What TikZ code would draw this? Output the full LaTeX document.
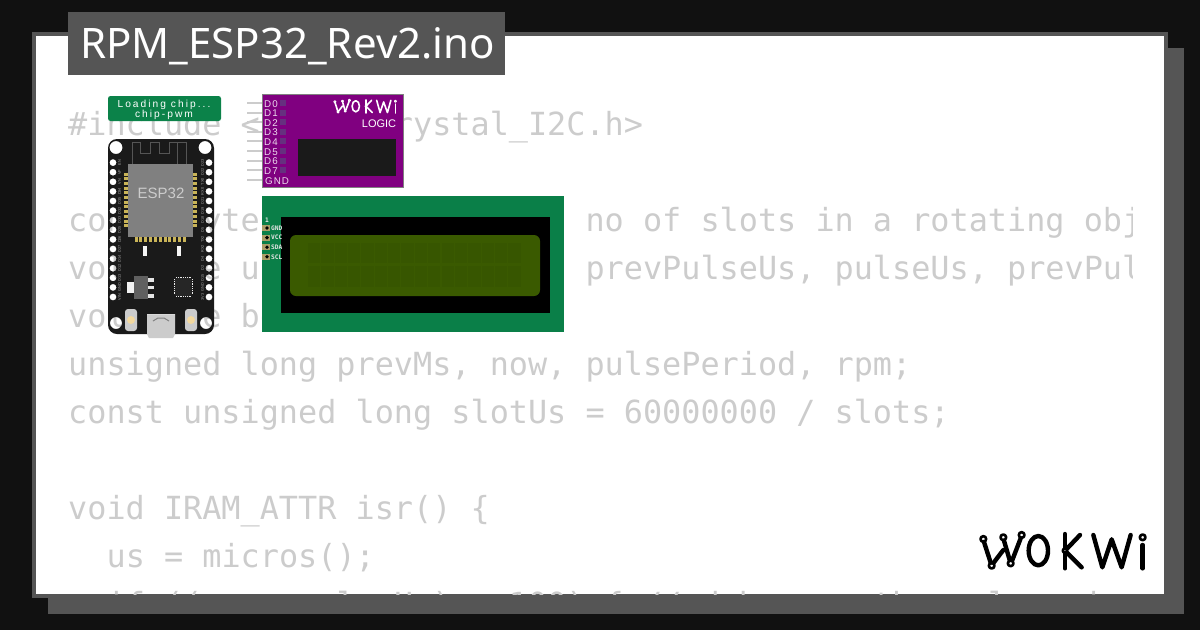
\documentclass[tikz,border=0pt]{standalone}
\usepackage{fontspec}
\setmainfont{Liberation Sans}
\newfontfamily\codefont{DejaVu Sans Mono}
\newfontfamily\titlefont{Noto Sans}
\newfontfamily\spacedfont[LetterSpace=20]{Liberation Sans}
\newfontfamily\logicfont[LetterSpace=10]{Liberation Sans}
\definecolor{bgdark}{HTML}{111111}
\definecolor{frame}{HTML}{555555}
\definecolor{codegray}{HTML}{CCCCCC}
\definecolor{pcbgreen}{HTML}{0A7F48}
\definecolor{chipgreen}{HTML}{0B8249}
\definecolor{logicpurple}{HTML}{800080}
\definecolor{logicsquare}{HTML}{66307F}
\definecolor{lcdscreen}{HTML}{3A5A00}
\definecolor{lcdcell}{HTML}{375600}
\definecolor{boardblack}{HTML}{1A1A1A}
\definecolor{padgold}{HTML}{C9B458}
\definecolor{btnyellow}{HTML}{F3D9A0}
\tikzset{
  codeline/.style={anchor=base west,inner sep=0pt,text=codegray,font=\codefont\fontsize{31.83}{34}\selectfont},
  tinylabel/.style={inner sep=0pt,text=#1,font=\fontsize{3.8}{4}\selectfont,rotate=90},
  logicpin/.style={anchor=base west,inner sep=0pt,text=white!85!logicpurple,font=\logicfont\fontsize{9.8}{10}\selectfont},
  lcdpin/.style={anchor=west,inner sep=0pt,text=white!90!black,font=\codefont\bfseries\fontsize{6.2}{7}\selectfont},
  chiplabel/.style={inner sep=0pt,text=white,font=\spacedfont\fontsize{10.2}{11}\selectfont},
  logostroke/.style={line cap=round,line join=round,fill=none}
}
\newcommand{\wokwilogo}[5]{%
  \begin{scope}[shift={(#3,#4)},x=#2pt,y=-#2pt,draw=#1,line width=#5pt,logostroke]
    \draw (42,66) -- (62,128);
    \draw (71,128) -- (100,90);
    \draw (102,62) -- (119,120);
    \draw (127,120) -- (152,55);
    \draw (205,92) ellipse (29 and 44);
    \draw (285,42) -- (285,84);
    \draw (285,100) -- (285,145);
    \draw (291,86) -- (330,45);
    \draw (291,98) -- (335,142);
    \draw (370,45) -- (397,142) -- (425,58) -- (455,142) -- (482,45);
    \draw (518,75) -- (518,145);
    \begin{scope}[line width=.6*#5pt]
      \draw (40,57) circle (8.5);
      \draw (100,52) circle (8.5);
      \draw (155,45) circle (8.5);
      \draw (65,137) circle (8.5);
      \draw (122,130) circle (8.5);
      \draw (285,92) circle (6.5);
      \draw (518,52) circle (8.5);
    \end{scope}
  \end{scope}}
\begin{document}
\begin{tikzpicture}[x=1pt,y=-1pt]
\useasboundingbox (0,0) rectangle (1200,630);
\fill[bgdark] (0,0) rectangle (1200,630);
\fill[frame] (48,48) rectangle (1184,614);
\fill[frame] (32,32) rectangle (1168,598);
\fill[white] (36,36) rectangle (1164,594);
% code
\begin{scope}
\clip (36,36) rectangle (1132,594);
\node[codeline] (c1) at (68,135) {\#include <LiquidCrystal\_I2C.h>};
\node[codeline] (c2) at (68,231) {const byte slots = 20;~~// no of slots in a rotating object};
\node[codeline] (c3) at (68,279) {volatile unsigned long us, prevPulseUs, pulseUs, prevPulse;};
\node[codeline] (c4) at (68,327) {volatile bool done;};
\node[codeline] (c5) at (68,375) {unsigned long prevMs, now, pulsePeriod, rpm;};
\node[codeline] (c6) at (68,423) {const unsigned long slotUs = 60000000 / slots;};
\node[codeline] (c7) at (68,519) {void IRAM\_ATTR isr() \{};
\node[codeline] (c8) at (106.4,567) {us = micros();};
\node[codeline] (c9) at (106.4,615) {if ((us - pulseUs) > 100) \{ // debounce the pulse signal};
\end{scope}
% title
\fill[frame] (68,12) rectangle (505,75);
\node[anchor=base west,inner sep=0pt,text=white,font=\titlefont\fontsize{42}{46}\selectfont] (title) at (80,58.5) {RPM\_ESP32\_Rev2.ino};
% chip label
\fill[chipgreen,rounded corners=2.5] (108,96) rectangle (221,121);
\node[chiplabel] (load) at (164,104.5) {Loading chip...};
\node[chiplabel] (pwm) at (164,114.5) {chip-pwm};
% ESP32 board
\fill[boardblack,even odd rule] (108,139) [rounded corners=9] rectangle (214,334) [sharp corners]
  (116,147.5) circle (6.5) (205,147.5) circle (6.5) (116,323) circle (6) (206,323) circle (6)
  foreach \k [evaluate=\k as \yy using 297-9.6*\k] in {0,...,14} { (113,\yy) circle (3.5) (209,\yy) circle (3.5) };
\draw[frame,line width=.7] (132,164) -- (132,142) -- (140,142) -- (140,153) -- (150,153) -- (150,142) -- (159,142) -- (159,153) -- (169,153) -- (169,142) -- (186,142) -- (186,164) (177,142) -- (177,164);
\foreach \k in {0,...,11} {
  \fill[padgold] (124,172.5+4.7*\k) rectangle (128,175.5+4.7*\k);
  \fill[padgold] (193,172.5+4.7*\k) rectangle (197,175.5+4.7*\k);
}
\foreach \k in {0,...,10} {
  \fill[padgold] (134.5+4.85*\k,237) rectangle (137.5+4.85*\k,242);
}
\fill[gray] (128,164) rectangle (193,237);
\node[inner sep=0pt,text=codegray,font=\fontsize{15}{16}\selectfont] (esp) at (161,193) {ESP32};
\foreach \k/\a/\b in {0/VIN/3V3,1/GND/GND,2/D13/D15,3/D12/D2,4/D14/D4,5/D27/RX2,6/D26/TX2,7/D25/D5,8/D33/D18,9/D32/D19,10/D35/D21,11/D34/RX0,12/VN/TX0,13/VP/D22,14/EN/D23} {
  \node[tinylabel=gray!70] (la\k) at (119.5,297-9.6*\k) {\a};
  \node[tinylabel=gray!70] (lb\k) at (202.5,297-9.6*\k) {\b};
}
\fill[white!92!gray] (143,246) rectangle (147,256);
\fill[white!92!gray] (177,246) rectangle (181,256);
% regulator
\fill[white!90!gray] (127,282) rectangle (134,293);
\fill[gray!75!black] (134,276) rectangle (148,299);
\fill[white!80!gray] (148,278) rectangle (154,281.5);
\fill[white!80!gray] (148,285.5) rectangle (154,289);
\fill[white!80!gray] (148,294) rectangle (154,297.5);
% QFN chip
\fill[white!15!black,rounded corners=1.5] (175,278) rectangle (191.5,296);
\draw[white!85!gray,line width=1,dash pattern=on 1pt off .8pt] (176,277.5) -- (191,277.5) (176,296.5) -- (191,296.5) (174.5,279) -- (174.5,295) (192,279) -- (192,295);
% buttons
\foreach \xx in {131,191} {
  \fill[codegray,rounded corners=3] (\xx-6,309) rectangle (\xx+6,331);
  \fill[btnyellow] (\xx,320) circle (4);
}
% USB
\fill[codegray] (147,314) rectangle (175,334) -- (173,338) -- (149,338) -- (147,334) -- cycle;
\fill[white!70!gray] (147,314) rectangle (175,315);
\draw[gray,line width=1] (153,321) -- (158,318) -- (164,318) -- (169,321);
% logic analyzer
\foreach \k in {0,...,8} {
  \draw[codegray,line width=2] (247,103+9.6*\k) -- (262,103+9.6*\k);
}
\fill[logicpurple] (262,94) rectangle (403,187);
\draw[gray,line width=.5] (262,94) -- (403,94) -- (403,187) -- (262,187) -- cycle;
\foreach \k/\t in {0/D0,1/D1,2/D2,3/D3,4/D4,5/D5,6/D6,7/D7} {
  \node[logicpin] (lg\k) at (264,107+9.6*\k) {\t};
  \fill[logicsquare] (280,100+9.6*\k) rectangle (286,106+9.6*\k);
}
\node[logicpin] (lgnd) at (265,184) {GND};
\node[inner sep=0pt,text=white,font=\fontsize{11}{12}\selectfont] (logic) at (379,124) {LOGIC};
\fill[boardblack] (298,139) rectangle (396,176);
\wokwilogo{white}{.1267}{329.8}{94.6}{1.6}
% LCD
\fill[pcbgreen] (262,196) rectangle (564,332);
\fill[black] (281,217) rectangle (550,313);
\fill[lcdscreen,rounded corners=6] (290,235) rectangle (540,296);
\foreach \k in {0,...,15} {
  \fill[lcdcell] (308+13.35*\k,243) rectangle (320.3+13.35*\k,263);
  \fill[lcdcell] (308+13.35*\k,266) rectangle (320.3+13.35*\k,287);
}
\foreach \k/\t in {0/GND,1/VCC,2/SDA,3/SCL} {
  \fill[padgold!60!gray] (262,225+9.6*\k) rectangle (270,231+9.6*\k);
  \fill[black] (267,228+9.6*\k) circle (1.9);
  \node[lcdpin] (lp\k) at (271,228+9.6*\k) {\t};
}
\node[lcdpin] (lone) at (265,220) {1};
% logo
\wokwilogo{black}{.3333}{970}{520}{4.4}
\end{tikzpicture}
\end{document}
